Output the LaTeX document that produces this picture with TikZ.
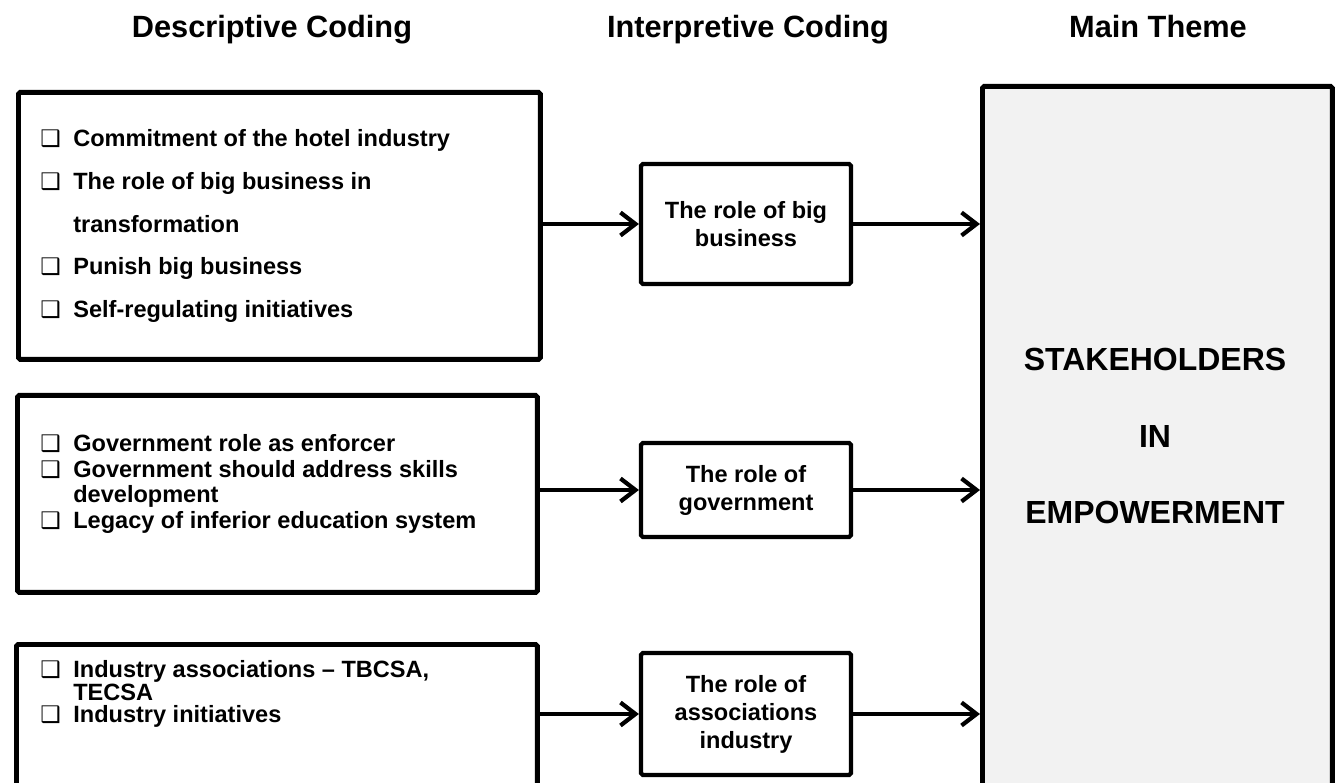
\documentclass[tikz,border=0pt]{standalone}
\usepackage{fontspec}
\setmainfont{Liberation Sans}
\newfontfamily\symfont{DejaVu Sans}
\usetikzlibrary{positioning,arrows.meta}

\newcommand{\bul}{\makebox[0.66cm][l]{\symfont\fontsize{13}{13}\selectfont ❑}}
\newcommand{\ind}{\hspace*{0.66cm}}

\begin{document}
\begin{tikzpicture}[x=0.02cm, y=-0.02cm, >={Straight Barb[length=3mm,width=4.6mm]},
    head/.style={font=\fontsize{17.5}{20}\selectfont\bfseries, anchor=base},
    descbox/.style={draw, line width=2.8pt, rounded corners=1pt, anchor=north west, inner sep=0pt},
    listtext/.style={align=left, anchor=west, inner sep=0pt},
    interbox/.style={draw, line width=2.4pt, rounded corners=1pt, align=center, inner sep=0pt,
        minimum width=4.2cm, font=\fontsize{13.4}{15.9}\selectfont\bfseries},
    link/.style={->, line width=2.4pt}]
    \useasboundingbox (0,0) rectangle (1335,783);
    \clip (0,0) rectangle (1335,783);
    % Titulos das colunas
    \node[head] (hdesc) at (272,38) {Descriptive Coding};
    \node[head] (hinter) at (748,38) {Interpretive Coding};
    \node[head] (htheme) at (1158,38) {Main Theme};
    % Codificacao descritiva
    \node[descbox, minimum width=10.44cm, minimum height=5.34cm] (desc1) at (16,90) {};
    \node[descbox, minimum width=10.4cm, minimum height=3.94cm] (desc2) at (15,393) {};
    \node[descbox, minimum width=10.42cm, minimum height=4.4cm] (desc3) at (14,642) {};
    \node[listtext, font=\fontsize{13.4}{24.4}\selectfont\bfseries] (list1) at (40,226)
        {\bul Commitment of the hotel industry\\ \bul The role of big business in\\ \ind transformation\\ \bul Punish big business\\ \bul Self-regulating initiatives};
    \node[listtext, font=\fontsize{13.4}{14.5}\selectfont\bfseries] (list2) at (40,484)
        {\bul Government role as enforcer\\ \bul Government should address skills\\ \ind development\\ \bul Legacy of inferior education system};
    \node[listtext, font=\fontsize{13.4}{13}\selectfont\bfseries] (list3) at (40,694)
        {\bul Industry associations -- TBCSA,\\ \ind TECSA\\ \bul Industry initiatives};
    % Codificacao interpretativa
    \node[interbox, minimum height=2.4cm] (mid1) at (746,224) {The role of big\\ business};
    \node[interbox, minimum height=1.88cm] (mid2) at (746,490) {The role of\\ government};
    \node[interbox, minimum height=2.44cm] (mid3) at (746,714) {The role of\\ associations\\ industry};
    % Tema principal
    \node[draw, line width=2.8pt, rounded corners=1pt, fill={rgb,255:red,242;green,242;blue,242},
        anchor=north west, inner sep=0pt, minimum width=7cm, minimum height=15.4cm] (theme) at (980,84) {};
    \node[align=center, font=\fontsize{18.2}{43.7}\selectfont\bfseries] (themetxt) at (1155,436)
        {STAKEHOLDERS\\ IN\\ EMPOWERMENT};
    % Setas
    \foreach \i in {1,2,3} {
        \draw[link] (mid\i.west -| desc\i.east) -- (mid\i.west);
        \draw[link] (mid\i.east) -- (mid\i.east -| theme.west);
    }
\end{tikzpicture}
\end{document}
